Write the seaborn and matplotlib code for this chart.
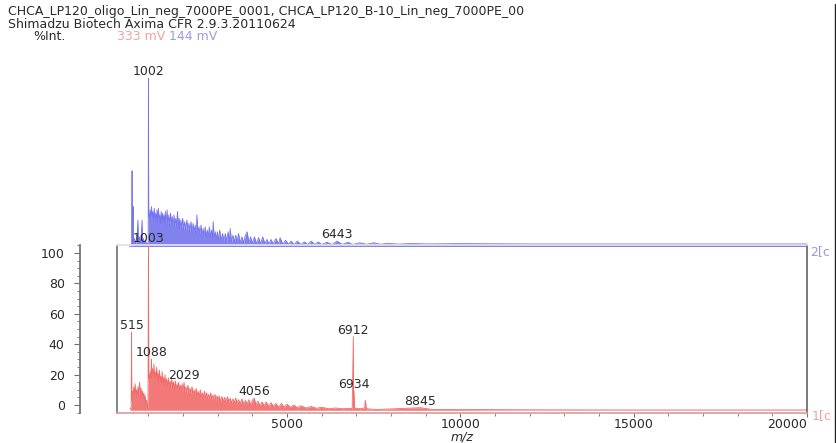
import numpy as np
import pandas as pd
import matplotlib
matplotlib.use("Agg")
import matplotlib.pyplot as plt
import seaborn as sns
from matplotlib.ticker import MultipleLocator
from matplotlib.lines import Line2D

# ---------------- data ----------------
header_line1 = "CHCA_LP120_oligo_Lin_neg_7000PE_0001, CHCA_LP120_B-10_Lin_neg_7000PE_00"
header_line2 = "Shimadzu Biotech Axima CFR 2.9.3.20110624"
y_title = "%Int."
red_scale_text = "333 mV"
blue_scale_text = "144 mV"
x_label = "m/z"
red_trace_tag = "1[c"
blue_trace_tag = "2[c"
x_ticks = [5000, 10000, 15000, 20000]
y_ticks = [0, 20, 40, 60, 80, 100]

# lower (red) spectrum, (m/z, %Int)
red_points = [
    (480, -3), (505, -1), (515, 48), (522, 3), (540, 9), (560, 5), (580, 12), (600, 6),
    (620, 14), (640, 7), (660, 10), (680, 5), (700, 12), (720, 6), (745, 15), (770, 7),
    (790, 11), (810, 5), (830, 9), (850, 4), (870, 8), (890, 3), (910, 6), (930, 1),
    (950, 3), (970, -1), (990, -2), (1003, 105), (1012, 18), (1020, 20), (1040, 16),
    (1060, 22), (1075, 17), (1088, 30), (1100, 18), (1120, 24), (1140, 17), (1160, 27),
    (1180, 18), (1200, 22), (1220, 16), (1240, 25), (1260, 16), (1280, 21), (1300, 15),
    (1320, 23), (1340, 15), (1360, 19), (1380, 14), (1400, 22), (1420, 14), (1440, 18),
    (1460, 13), (1480, 20), (1500, 13), (1525, 17), (1550, 12), (1575, 18), (1600, 12),
    (1625, 16), (1650, 11), (1675, 17), (1700, 11), (1725, 15), (1750, 10), (1775, 16),
    (1800, 10), (1825, 14), (1850, 10), (1875, 15), (1900, 9), (1925, 13), (1950, 9),
    (1975, 14), (2000, 9), (2029, 15), (2050, 8.5), (2080, 12), (2110, 8), (2140, 13),
    (2170, 8), (2200, 11), (2230, 7.5), (2260, 12), (2290, 7), (2320, 10), (2350, 6.5),
    (2380, 11), (2410, 6), (2440, 9), (2470, 5.5), (2500, 10), (2530, 5), (2560, 8),
    (2590, 5), (2620, 9), (2650, 4.5), (2680, 8), (2710, 4), (2740, 7), (2770, 4),
    (2800, 8), (2830, 3.5), (2860, 6.5), (2890, 3.5), (2920, 7), (2950, 3), (2980, 6),
    (3010, 3), (3040, 6), (3080, 2.5), (3120, 5.5), (3160, 2.5), (3200, 5), (3240, 2),
    (3280, 5.5), (3320, 2), (3360, 4.5), (3400, 1.5), (3440, 4), (3480, 1.5), (3520, 4.5),
    (3560, 1), (3600, 3.5), (3650, 1), (3700, 4), (3750, 0.5), (3800, 3), (3850, 0.5),
    (3900, 3.5), (3950, 0), (4000, 3), (4056, 4.5), (4100, 0), (4160, 2.5),
    (4220, -0.5), (4280, 2), (4340, -0.5), (4400, 2), (4470, -1), (4540, 1.5), (4610, -1),
    (4680, 1), (4760, -1.5), (4840, 1), (4920, -1.5), (5000, 0.5), (5100, -1.5),
    (5200, 0), (5300, -2), (5400, -0.5), (5550, -2), (5700, -1), (5850, -2.2),
    (6000, -1.5), (6200, -2.5), (6400, -2), (6600, -2.5), (6800, -2.2), (6880, -2.5),
    (6912, 45), (6922, -1), (6934, 9), (6948, -2), (7100, -2.5), (7240, -2), (7260, 3),
    (7290, -2.5), (7600, -3), (8000, -2.6), (8845, -1.8), (9200, -3), (10000, -3),
    (12000, -3.2), (15000, -3.3), (20000, -3.3),
]
red_mz = [p[0] for p in red_points]
red_int = [p[1] for p in red_points]
red_labels = [515, 1003, 1088, 2029, 4056, 6912, 6934, 8845]

# upper (blue) spectrum, (m/z, relative intensity %)
blue_points = [
    (450, 0), (520, 1), (530, 45), (538, 2), (548, 10), (560, 24), (570, 3), (600, 5),
    (640, 2), (680, 8), (700, 16), (712, 3), (740, 6), (770, 2), (800, 9), (820, 16),
    (832, 3), (860, 5), (890, 2), (920, 4), (950, 1.5), (980, 2), (995, 1), (1002, 100),
    (1010, 20), (1030, 17), (1050, 22), (1070, 16), (1090, 24), (1110, 17), (1130, 21),
    (1150, 16), (1170, 23), (1190, 16), (1210, 20), (1230, 15), (1250, 22), (1270, 15),
    (1290, 23), (1310, 15), (1330, 19), (1350, 14), (1370, 21), (1390, 14), (1410, 20),
    (1430, 14), (1450, 19), (1470, 14), (1490, 21), (1510, 13), (1540, 22), (1565, 13),
    (1590, 19), (1615, 13), (1640, 20), (1665, 13), (1690, 18), (1715, 12), (1740, 19),
    (1765, 12), (1790, 17), (1815, 12), (1840, 21), (1865, 11), (1890, 17), (1915, 11),
    (1940, 16), (1965, 11), (1990, 17), (2020, 10), (2050, 15), (2080, 10), (2110, 16),
    (2140, 10), (2170, 14), (2200, 9), (2230, 15), (2260, 9), (2290, 14), (2320, 9),
    (2350, 13), (2380, 8), (2400, 19), (2430, 8), (2460, 12), (2490, 7.5), (2520, 13),
    (2550, 7), (2580, 11), (2610, 6.5), (2640, 12), (2670, 6), (2700, 10), (2730, 6),
    (2760, 12), (2790, 5.5), (2820, 10), (2850, 5), (2870, 15), (2900, 5), (2930, 9),
    (2960, 4.5), (2990, 9), (3020, 4.5), (3060, 10), (3100, 4), (3140, 8), (3180, 4),
    (3220, 8), (3260, 3.5), (3300, 9), (3340, 3.5), (3360, 11), (3400, 3), (3440, 7),
    (3480, 3), (3520, 7), (3560, 3), (3600, 8), (3650, 2.8), (3700, 6), (3750, 2.6),
    (3800, 7), (3850, 9), (3900, 2.4), (3950, 6), (4000, 2.2), (4060, 6), (4120, 2),
    (4180, 5.5), (4240, 2), (4300, 6), (4360, 2), (4420, 4.5), (4480, 1.8),
    (4540, 4.5), (4600, 1.8), (4680, 5), (4760, 1.8), (4800, 5.5), (4880, 1.6),
    (4960, 4), (5040, 1.6), (5120, 3.5), (5200, 1.5), (5300, 3.5), (5400, 1.5),
    (5500, 3), (5600, 1.5), (5700, 3.5), (5800, 1.5), (5900, 3), (6000, 1.5),
    (6150, 2.8), (6300, 1.5), (6443, 3.5), (6600, 1.5), (6750, 2.8), (6900, 1.5),
    (7100, 2.5), (7300, 1.6), (7500, 2.5), (7700, 1.6), (7900, 2.2), (8200, 1.7),
    (8600, 2.1), (9000, 1.8), (10000, 2), (12000, 1.8), (15000, 1.8), (20000, 1.8),
]
blue_mz = [p[0] for p in blue_points]
blue_int = [p[1] for p in blue_points]
blue_labels = [1002, 6443]

# ---------------- style ----------------
RED = "#f26a6a"
BLUE = "#7474ee"
TXT = "#2a2a2a"
AXC = "#707070"

sns.set_theme(style="white")
plt.rcParams["font.family"] = ["DejaVu Sans"]
FS = 9

W, H = 837, 443
fig = plt.figure(figsize=(W / 100, H / 100), dpi=100)


def fx(px):
    return px / W


def fy(py):
    return 1 - py / H


red_df = pd.DataFrame({"mz": red_mz, "int": red_int})
blue_df = pd.DataFrame({"mz": blue_mz, "int": blue_int})
XMIN, XMAX = 96, 20000

# upper spectrum axes (no frame)
ax_b = fig.add_axes([fx(117), fy(247), fx(807) - fx(117), fy(78) - fy(247)])
ax_b.set_axis_off()
ax_b.patch.set_alpha(0)
ax_b.fill_between(blue_df["mz"], 0.3, blue_df["int"], color=BLUE, lw=0, alpha=0.9)
sns.lineplot(data=blue_df, x="mz", y="int", ax=ax_b, color=BLUE, lw=0.6,
             estimator=None, sort=False)
ax_b.set_xlim(XMIN, XMAX)
ax_b.set_ylim(0, 100)
bl = dict(blue_points)
for m in blue_labels:
    ax_b.annotate(str(m), (m, bl[m]), xytext=(0, 0), textcoords="offset points",
                  ha="center", va="bottom", fontsize=FS, color=TXT, annotation_clip=False)

# lower spectrum axes
ax_r = fig.add_axes([fx(117), fy(413), fx(807) - fx(117), fy(245) - fy(413)])
ax_r.patch.set_alpha(0)
ax_r.fill_between(red_df["mz"], -3.5, red_df["int"], color=RED, lw=0, alpha=0.9)
sns.lineplot(data=red_df, x="mz", y="int", ax=ax_r, color=RED, lw=0.6,
             estimator=None, sort=False)
ax_r.set_xlim(XMIN, XMAX)
ax_r.set_ylim(-5.3, 105.3)
rl = dict(red_points)
for m in red_labels:
    yv = min(rl[m], 105)
    ax_r.annotate(str(m), (m, yv), xytext=(0, 0), textcoords="offset points",
                  ha="center", va="bottom", fontsize=FS, color=TXT,
                  annotation_clip=False, zorder=5)

# spines / frame
for s in ax_r.spines.values():
    s.set_visible(True)
ax_r.spines["left"].set_position(("outward", 37 * 0.72))
ax_r.spines["left"].set_color(AXC)
ax_r.spines["right"].set_color(AXC)
ax_r.spines["right"].set_linewidth(1.3)
ax_r.spines["top"].set_color("#e2e2e2")
ax_r.spines["bottom"].set_color("#d9a0a0")
ax_r.plot([0, 0], [0, 1], transform=ax_r.transAxes, color=AXC, lw=1.2, clip_on=False)

ax_r.set_yticks(y_ticks)
ax_r.set_yticklabels([str(v) for v in y_ticks])
ax_r.yaxis.set_minor_locator(MultipleLocator(5))
ax_r.set_xticks(x_ticks)
ax_r.set_xticklabels([str(v) for v in x_ticks])
ax_r.xaxis.set_minor_locator(MultipleLocator(1000))
ax_r.get_xticklabels()[-1].set_ha("right")
ax_r.tick_params(axis="y", which="major", left=True, direction="out", length=4,
                 width=0.8, color=AXC, pad=7, labelsize=FS, labelcolor=TXT)
ax_r.tick_params(axis="y", which="minor", left=True, direction="out", length=2,
                 width=0.6, color=AXC)
ax_r.tick_params(axis="x", which="major", bottom=True, direction="out", length=3,
                 width=0.8, color=AXC, pad=0.5, labelsize=FS, labelcolor=TXT)
ax_r.tick_params(axis="x", which="minor", bottom=True, direction="out", length=2,
                 width=0.6, color=AXC)
ax_r.set_xlabel(x_label, fontsize=FS, style="italic", color=TXT)
ax_r.xaxis.set_label_coords(0.5, -(431 - 413) / (413 - 245))
ax_r.set_ylabel("")

# header texts
fig.text(fx(8), fy(12), header_line1, fontsize=FS, color=TXT, va="center", ha="left")
fig.text(fx(8), fy(24), header_line2, fontsize=FS, color=TXT, va="center", ha="left")
fig.text(fx(33), fy(37), y_title, fontsize=FS, color=TXT, va="center", ha="left")
fig.text(fx(117), fy(37), red_scale_text, fontsize=FS, color="#f4a0a0", va="center", ha="left")
fig.text(fx(169), fy(37), blue_scale_text, fontsize=FS, color="#9c9ce0", va="center", ha="left")
fig.text(fx(810), fy(252), blue_trace_tag, fontsize=FS, color="#9a9ad6", va="center", ha="left")
fig.text(fx(812), fy(416), red_trace_tag, fontsize=FS, color="#f0a0a0", va="center", ha="left")

# right border of the window
fig.add_artist(Line2D([fx(835.5), fx(835.5)], [fy(4), fy(443)], color="#222222", lw=1))

fig.savefig("out.png", dpi=100)
